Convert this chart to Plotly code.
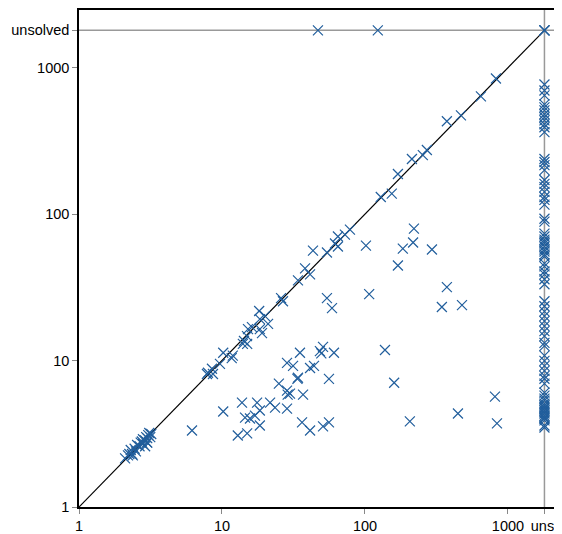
import plotly.graph_objects as go

UNS = 1800  # position used for "unsolved"

# Both solved: runtime of method A (x) and method B (y)
both_a = [824, 647, 469, 374, 271, 254, 213, 170, 154, 129, 78.5, 72.4, 64.7, 64.7, 61.7,
          54.2, 43.3, 38.1, 41.3, 34, 25.9, 26.7, 18.2, 20, 18.4, 21, 16.2, 15.2, 18.4, 19.05,
          14.96, 14.25, 14, 15, 10.2, 11.9, 11.7, 9.68, 8.51, 7.98, 7.85, 8.65,
          101.6, 220, 217, 184, 294, 170, 107, 54.2, 58.8, 374, 345, 477,
          35.1, 48.4, 50.9, 49.5, 60.7, 28.5, 31.4, 41.3, 44, 34, 33.7, 56, 25, 28.5, 29.9,
          28.8, 36.9, 138, 160,
          10.2, 13.8, 17.6, 21.7, 18.4, 17.0, 15.7, 14.5, 23.5, 28.5, 18.4, 12.9, 15, 36.3,
          41.3, 50.9, 56, 6.17, 206, 447, 811, 838,
          2.1, 2.2, 2.25, 2.35, 2.3, 2.45, 2.5, 2.55, 2.65, 2.7, 2.8, 2.8, 2.9, 2.95, 3.0,
          3.05, 3.1, 3.15, 2.9, 3.0, 2.75, 3.2, 2.38, 2.99]
both_b = [844, 637, 473, 431, 274, 253, 238, 188, 138, 131, 78.3, 72.5, 70.3, 60.1, 63,
          54.7, 56.4, 42.6, 38.8, 35.3, 26.7, 25.4, 21.8, 20.1, 19.2, 17.8, 16.9, 16.4, 16.4, 15.4,
          14.7, 13.6, 13, 13, 11.3, 10.8, 10.4, 9.5, 8.79, 8.26, 8.1, 8.1,
          61, 79.6, 64, 58.2, 57.3, 44.6, 28.4, 26.7, 22.8, 31.7, 23.2, 23.9,
          11.3, 11.6, 12.4, 11.2, 11.3, 9.65, 9.2, 8.9, 9.2, 7.63, 7.5, 7.5, 6.95, 6.23, 5.94,
          5.85, 5.85, 11.8, 7.06,
          4.49, 5.16, 5.16, 5.16, 4.56, 4.21, 4.02, 4.08, 4.77, 4.7, 3.6, 3.08, 3.18, 3.78,
          3.33, 3.55, 3.78, 3.33, 3.84, 4.35, 5.67, 3.72,
          2.15, 2.25, 2.3, 2.3, 2.45, 2.5, 2.4, 2.65, 2.6, 2.75, 2.7, 2.9, 2.85, 3.0, 2.75,
          3.1, 3.2, 3.0, 2.6, 2.95, 2.8, 3.15, 2.25, 2.76]

# A unsolved, B solved: runtime of B
a_unsolved_b = [768, 699, 647, 562, 536, 511, 481, 459, 437, 411, 392, 363,
                238, 227, 216, 200, 171, 161, 153, 142, 131, 125, 116, 93, 88.8,
                73.6, 70.3, 67, 65, 63, 60.1, 57.3, 55.6, 53, 51.4, 46.1, 44, 40.6, 38.8, 35.9, 33.2,
                25.4, 23.5, 21.7, 20.1, 18.6, 17.2, 15.9, 14.7, 13.2, 12.6,
                10.8, 9.95, 9.2, 8.51, 7.87, 7.51, 6.95,
                6.04, 5.76, 5.5, 5.33, 5.08, 4.93, 4.8, 4.7, 4.56, 4.45, 4.35, 4.21, 4.1, 4.02, 3.9, 3.6, 3.49]

# B unsolved, A solved: runtime of A
b_unsolved_a = [46.9, 123]

# Both unsolved
both_unsolved = 3

blue = "#215e9c"
mk = dict(symbol="x-thin", size=10, line=dict(color=blue, width=1.2), color=blue)

fig = go.Figure()
# reference lines
fig.add_trace(go.Scatter(x=[1, UNS], y=[1, UNS], mode="lines",
                         line=dict(color="black", width=1.2), hoverinfo="skip", showlegend=False))
fig.add_trace(go.Scatter(x=[0.5, 5000], y=[UNS, UNS], mode="lines",
                         line=dict(color="#999999", width=1.5), hoverinfo="skip", showlegend=False))
fig.add_trace(go.Scatter(x=[UNS, UNS], y=[0.5, 5000], mode="lines",
                         line=dict(color="#999999", width=1.5), hoverinfo="skip", showlegend=False))

xs = list(both_a) + [UNS] * len(a_unsolved_b) + list(b_unsolved_a) + [UNS] * both_unsolved
ys = list(both_b) + list(a_unsolved_b) + [UNS] * len(b_unsolved_a) + [UNS] * both_unsolved
fig.add_trace(go.Scatter(x=xs, y=ys, mode="markers", marker=mk, showlegend=False))

tickfont = dict(family="Liberation Sans, Arial, sans-serif", size=14.5, color="black")
fig.update_xaxes(type="log", range=[0, 3.364],
                 tickvals=[1, 10, 100, 1000, UNS], ticktext=["1", "10", "100", "1000", "uns."],
                 ticks="outside", ticklen=5, tickcolor="#888888", tickwidth=1.2,
                 showline=True, linecolor="black", linewidth=1.5, mirror=True,
                 showgrid=False, zeroline=False, tickfont=tickfont, ticklabeloverflow="allow")
fig.update_yaxes(type="log", range=[0, 3.394],
                 tickvals=[1, 10, 100, 1000, UNS], ticktext=["1", "10", "100", "1000", "unsolved"],
                 ticks="outside", ticklen=5, tickcolor="#888888", tickwidth=1.2,
                 showline=True, linecolor="black", linewidth=1.5, mirror=True,
                 showgrid=False, zeroline=False, tickfont=tickfont, ticklabeloverflow="allow")
# page has an 8px body margin, so the figure is sized to fit inside it
fig.update_layout(width=554, height=526, margin=dict(l=71, r=2, t=0, b=27, pad=0),
                  plot_bgcolor="white", paper_bgcolor="white")
fig.write_html("out.html")
